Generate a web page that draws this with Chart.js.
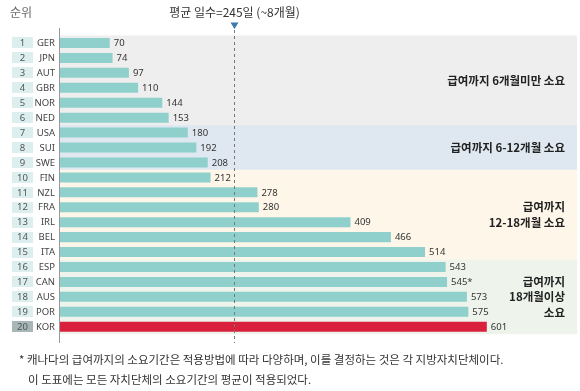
<!DOCTYPE html>
<html>
<head>
<meta charset="utf-8">
<script src="https://cdn.jsdelivr.net/npm/chart.js@4/dist/chart.umd.min.js"></script>
<style>
html,body{margin:0;padding:0;background:#fff;}
#wrap{position:relative;width:580px;height:391px;}
</style>
</head>
<body>
<div id="wrap"><canvas id="c" width="580" height="391"></canvas></div>
<script>
const ranks = ['1','2','3','4','5','6','7','8','9','10','11','12','13','14','15','16','17','18','19','20'];
const countries = ['GER','JPN','AUT','GBR','NOR','NED','USA','SUI','SWE','FIN','NZL','FRA','IRL','BEL','ITA','ESP','CAN','AUS','POR','KOR'];
const days = [70,74,97,110,144,153,180,192,208,212,278,280,409,466,514,543,545,573,575,601];
const valueLabels = ['70','74','97','110','144','153','180','192','208','212','278','280','409','466','514','543','545*','573','575','601'];
const averageDays = 245;
const averageLabel = '평균 일수=245일 (~8개월)';
const rankTitle = '순위';
const groupStart = [0, 6, 9, 15];
const groupEnd = [5, 8, 14, 19];
const groupLabels = [
  ['급여까지 6개월미만 소요'],
  ['급여까지 6-12개월 소요'],
  ['급여까지', '12-18개월 소요'],
  ['급여까지', '18개월이상', '소요']
];
const footnotes = [
  '* 캐나다의 급여까지의 소요기간은 적용방법에 따라 다양하며, 이를 결정하는 것은 각 지방자치단체이다.',
  '이 도표에는 모든 자치단체의 소요기간의 평균이 적용되었다.'
];

const groupColors = ['#eeeeee', '#dfe8f0', '#fdf6e9', '#eef3ec'];
const FONT = "'Noto Sans', 'Noto Sans CJK KR', sans-serif";
const KFONT = "'Noto Sans CJK KR', 'Noto Sans', sans-serif";

const decor = {
  id: 'decor',
  beforeDatasetsDraw(chart) {
    const ctx = chart.ctx, ca = chart.chartArea, y = chart.scales.y;
    const half = (y.getPixelForValue(1) - y.getPixelForValue(0)) / 2;
    ctx.save();
    for (let g = 0; g < groupStart.length; g++) {
      const t = y.getPixelForValue(groupStart[g]) - half;
      const b = y.getPixelForValue(groupEnd[g]) + half;
      ctx.fillStyle = groupColors[g];
      ctx.fillRect(ca.left, t, ca.right - ca.left, b - t);
    }
    ctx.restore();
  },
  afterDatasetsDraw(chart) {
    const ctx = chart.ctx, ca = chart.chartArea, y = chart.scales.y, x = chart.scales.x;
    const half = (y.getPixelForValue(1) - y.getPixelForValue(0)) / 2;
    ctx.save();
    // group labels
    ctx.fillStyle = '#222';
    ctx.font = "bold 11.5px " + KFONT;
    ctx.textAlign = 'right';
    ctx.textBaseline = 'middle';
    for (let g = 0; g < groupStart.length; g++) {
      const t = y.getPixelForValue(groupStart[g]) - half;
      const b = y.getPixelForValue(groupEnd[g]) + half;
      const mid = (t + b) / 2;
      const lines = groupLabels[g];
      const lh = 15.5;
      lines.forEach((s, i) => {
        ctx.fillText(s, ca.right - 12, mid + (i - (lines.length - 1) / 2) * lh);
      });
    }
    // value labels
    const meta = chart.getDatasetMeta(0);
    ctx.font = "9.5px " + FONT;
    ctx.textAlign = 'left';
    ctx.fillStyle = '#333';
    meta.data.forEach((bar, i) => {
      ctx.fillText(valueLabels[i], bar.x + 4, bar.y + 0.5);
    });
    // axis line
    ctx.strokeStyle = '#999';
    ctx.lineWidth = 1;
    ctx.beginPath();
    ctx.moveTo(Math.round(ca.left) - 0.5, 28);
    ctx.lineTo(Math.round(ca.left) - 0.5, 343);
    ctx.stroke();
    // average dashed line
    const ax = Math.round(x.getPixelForValue(averageDays)) + 0.5;
    ctx.strokeStyle = '#777';
    ctx.setLineDash([3, 3]);
    ctx.beginPath();
    ctx.moveTo(ax, 30);
    ctx.lineTo(ax, 343);
    ctx.stroke();
    ctx.setLineDash([]);
    // triangle
    ctx.fillStyle = '#3f78ad';
    ctx.beginPath();
    ctx.moveTo(ax - 4, 22.5);
    ctx.lineTo(ax + 4, 22.5);
    ctx.lineTo(ax, 29);
    ctx.closePath();
    ctx.fill();
    // title
    ctx.fillStyle = '#333';
    ctx.font = "12px " + KFONT;
    ctx.textAlign = 'center';
    ctx.fillText(averageLabel, ax, 12);
    ctx.textAlign = 'left';
    ctx.fillStyle = '#666';
    ctx.fillText(rankTitle, 10, 12);
    // rank boxes + country codes
    for (let i = 0; i < countries.length; i++) {
      const cy = y.getPixelForValue(i);
      ctx.fillStyle = i === countries.length - 1 ? '#a7b7b7' : '#dcefee';
      ctx.fillRect(12, Math.round(cy - 5.5), 21, 11);
      ctx.fillStyle = '#555';
      ctx.font = "9.5px " + FONT;
      ctx.textAlign = 'center';
      ctx.fillText(ranks[i], 22.5, cy + 0.5);
      ctx.fillStyle = '#444';
      ctx.font = "9.5px " + FONT;
      ctx.textAlign = 'right';
      ctx.fillText(countries[i], 55, cy + 0.5);
    }
    // footnotes
    ctx.fillStyle = '#333';
    ctx.font = "11.5px " + KFONT;
    ctx.textAlign = 'left';
    ctx.fillText(footnotes[0], 19, 360);
    ctx.fillText(footnotes[1], 28, 380);
    ctx.restore();
  }
};

new Chart(document.getElementById('c'), {
  type: 'bar',
  data: {
    labels: countries,
    datasets: [{
      data: days,
      backgroundColor: countries.map((c, i) => i === countries.length - 1 ? '#d9203d' : '#90d0cc'),
      borderWidth: 0,
      barPercentage: 0.67,
      categoryPercentage: 1.0
    }]
  },
  options: {
    indexAxis: 'y',
    responsive: false,
    animation: false,
    layout: { padding: { left: 60, right: 3, top: 35.5, bottom: 56.8 } },
    scales: {
      x: { display: false, min: 0, max: 728 },
      y: { display: false }
    },
    plugins: { legend: { display: false }, tooltip: { enabled: false } }
  },
  plugins: [decor]
});
</script>
</body>
</html>
